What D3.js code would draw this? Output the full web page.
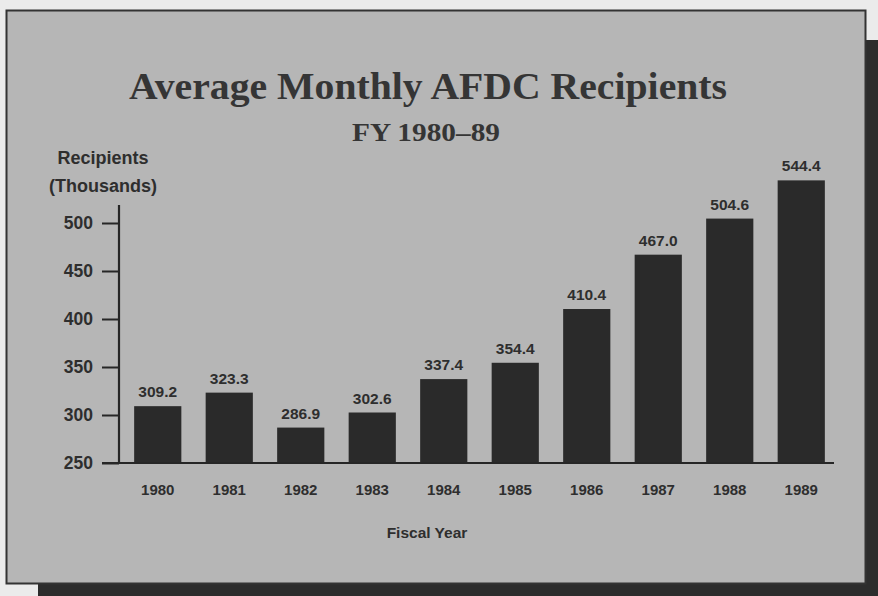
<!DOCTYPE html>
<html>
<head>
<meta charset="utf-8">
<script src="https://cdn.jsdelivr.net/npm/d3@7"></script>
<style>
  html, body { margin: 0; padding: 0; background: #ebebeb; }
  svg { display: block; }
</style>
</head>
<body>
<svg id="chart" width="878" height="596"></svg>
<script>
// Average monthly AFDC recipients by fiscal year (thousands)
const years = ["1980", "1981", "1982", "1983", "1984", "1985", "1986", "1987", "1988", "1989"];
const recipients = [309.2, 323.3, 286.9, 302.6, 337.4, 354.4, 410.4, 467.0, 504.6, 544.4];
const yTicks = [250, 300, 350, 400, 450, 500];

const svg = d3.select("#chart");
const W = 878, H = 596;

// Drop shadow behind the panel
svg.append("rect").attr("x", 38).attr("y", 40).attr("width", W - 38).attr("height", H - 40).attr("fill", "#2c2c2c");
// Panel
svg.append("rect").attr("x", 6.5).attr("y", 10.5).attr("width", 859).attr("height", 573)
  .attr("fill", "#b6b6b6").attr("stroke", "#333").attr("stroke-width", 2);

const sans = "'Liberation Sans', Arial, Helvetica, sans-serif";
const serif = "'Liberation Serif', 'Times New Roman', serif";
const ink = "#2e2e2e";

// Titles
svg.append("text").attr("x", 428).attr("y", 99).attr("text-anchor", "middle")
  .attr("font-family", serif).attr("font-weight", "bold").attr("font-size", 37)
  .attr("textLength", 598).attr("lengthAdjust", "spacingAndGlyphs")
  .attr("fill", "#353535").text("Average Monthly AFDC Recipients");
svg.append("text").attr("x", 426).attr("y", 141).attr("text-anchor", "middle")
  .attr("font-family", serif).attr("font-weight", "bold").attr("font-size", 25)
  .attr("textLength", 148).attr("lengthAdjust", "spacingAndGlyphs")
  .attr("fill", "#353535").text("FY 1980\u201389");

// Scales
const x = d3.scaleBand().domain(years).range([122, 837]).paddingInner(0.34).paddingOuter(0.17);
const y = d3.scaleLinear().domain([250, 500]).range([463, 223]);

// Bars
svg.append("g").selectAll("rect").data(recipients).join("rect")
  .attr("x", (d, i) => x(years[i]))
  .attr("width", x.bandwidth())
  .attr("y", d => y(d))
  .attr("height", d => y(250) - y(d))
  .attr("fill", "#2a2a2a");

// Value labels
svg.append("g").selectAll("text").data(recipients).join("text")
  .attr("x", (d, i) => x(years[i]) + x.bandwidth() / 2)
  .attr("y", d => y(d) - 9)
  .attr("text-anchor", "middle")
  .attr("font-family", sans).attr("font-weight", "bold").attr("font-size", 15.5)
  .attr("fill", ink)
  .text(d => d.toFixed(1));

// Y axis
const yAxis = d3.axisLeft(y).tickValues(yTicks).tickSize(17).tickPadding(9).tickFormat(d3.format("d"));
const gy = svg.append("g").attr("transform", "translate(119,0)").call(yAxis);
gy.select(".domain").attr("d", "M0,205V463").attr("stroke", "#262626").attr("stroke-width", 2.2);
gy.selectAll(".tick line").attr("stroke", "#262626").attr("stroke-width", 2);
gy.selectAll(".tick text").attr("font-family", sans).attr("font-weight", "bold")
  .attr("font-size", 17.5).attr("fill", ink);

// X axis baseline and year labels
const xAxis = d3.axisBottom(x).tickSize(0).tickPadding(21);
const gx = svg.append("g").attr("transform", "translate(0,463)").call(xAxis);
gx.select(".domain").attr("d", "M102,0H834").attr("stroke", "#262626").attr("stroke-width", 2.2);
gx.selectAll(".tick text").attr("font-family", sans).attr("font-weight", "bold")
  .attr("font-size", 15).attr("fill", ink);

// Axis titles
svg.append("text").attr("x", 103).attr("y", 164).attr("text-anchor", "middle")
  .attr("font-family", sans).attr("font-weight", "bold").attr("font-size", 18)
  .attr("fill", ink).text("Recipients");
svg.append("text").attr("x", 103).attr("y", 192).attr("text-anchor", "middle")
  .attr("font-family", sans).attr("font-weight", "bold").attr("font-size", 18)
  .attr("fill", ink).text("(Thousands)");
svg.append("text").attr("x", 427).attr("y", 538).attr("text-anchor", "middle")
  .attr("font-family", sans).attr("font-weight", "bold").attr("font-size", 15.5)
  .attr("fill", ink).text("Fiscal Year");
</script>
</body>
</html>
